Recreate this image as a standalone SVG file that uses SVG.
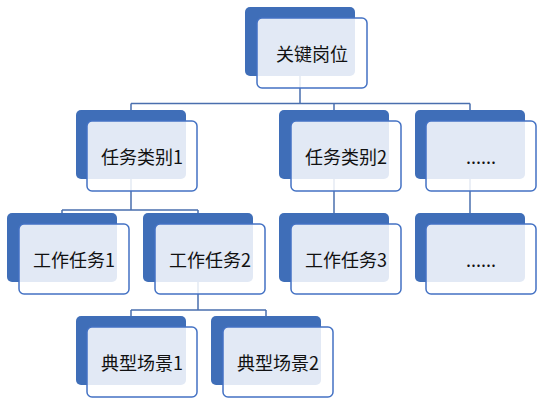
<svg xmlns="http://www.w3.org/2000/svg" width="546" height="408" viewBox="0 0 546 408">
<style>
.back{fill:#3F6EB8;}
.front{fill:#ffffff;fill-opacity:0.85;stroke:#4472C4;stroke-width:1.5;}
.lbl{font-family:"Noto Sans CJK SC","Microsoft YaHei",sans-serif;font-size:18px;fill:#111111;text-anchor:middle;dominant-baseline:central;}
.conn{fill:none;stroke:#4A6FAE;stroke-width:1.5;}
</style>
<rect width="546" height="408" fill="#ffffff"/>
<g id="connectors">
<path class="conn" d="M300,76 V103.5 M131,103.5 H470 M131,103.5 V110 M334,103.5 V110 M470,103.5 V110"/>
<path class="conn" d="M131,179 V210 M62,210 H198 M62,210 V213 M198,210 V213"/>
<path class="conn" d="M334,179 V213"/>
<path class="conn" d="M470,179 V213"/>
<path class="conn" d="M198,282 V310 M131,310 H266 M131,310 V316 M266,310 V316"/>
</g>
<g id="n-top"><rect class="back" x="245" y="7" width="110" height="69" rx="5"/><rect class="front" x="257" y="18" width="110" height="70" rx="5"/><text class="lbl" x="312" y="53">关键岗位</text></g>
<g id="n-cat1"><rect class="back" x="76" y="110" width="110" height="69" rx="5"/><rect class="front" x="87" y="121" width="110" height="70" rx="5"/><text class="lbl" x="142" y="156">任务类别1</text></g>
<g id="n-cat2"><rect class="back" x="279" y="110" width="110" height="69" rx="5"/><rect class="front" x="291" y="121" width="110" height="70" rx="5"/><text class="lbl" x="346" y="156">任务类别2</text></g>
<g id="n-dots1"><rect class="back" x="415" y="110" width="110" height="69" rx="5"/><rect class="front" x="426" y="121" width="110" height="70" rx="5"/><text class="lbl" x="481" y="156">......</text></g>
<g id="n-wt1"><rect class="back" x="7" y="213" width="110" height="69" rx="5"/><rect class="front" x="19" y="224" width="110" height="70" rx="5"/><text class="lbl" x="74" y="259">工作任务1</text></g>
<g id="n-wt2"><rect class="back" x="143" y="213" width="110" height="69" rx="5"/><rect class="front" x="155" y="224" width="110" height="70" rx="5"/><text class="lbl" x="210" y="259">工作任务2</text></g>
<g id="n-wt3"><rect class="back" x="279" y="213" width="110" height="69" rx="5"/><rect class="front" x="291" y="224" width="110" height="70" rx="5"/><text class="lbl" x="346" y="259">工作任务3</text></g>
<g id="n-dots2"><rect class="back" x="415" y="213" width="110" height="69" rx="5"/><rect class="front" x="426" y="224" width="110" height="70" rx="5"/><text class="lbl" x="481" y="259">......</text></g>
<g id="n-sc1"><rect class="back" x="76" y="316" width="110" height="69" rx="5"/><rect class="front" x="87" y="327" width="110" height="70" rx="5"/><text class="lbl" x="142" y="362">典型场景1</text></g>
<g id="n-sc2"><rect class="back" x="211" y="316" width="110" height="69" rx="5"/><rect class="front" x="223" y="327" width="110" height="70" rx="5"/><text class="lbl" x="278" y="362">典型场景2</text></g>
</svg>
